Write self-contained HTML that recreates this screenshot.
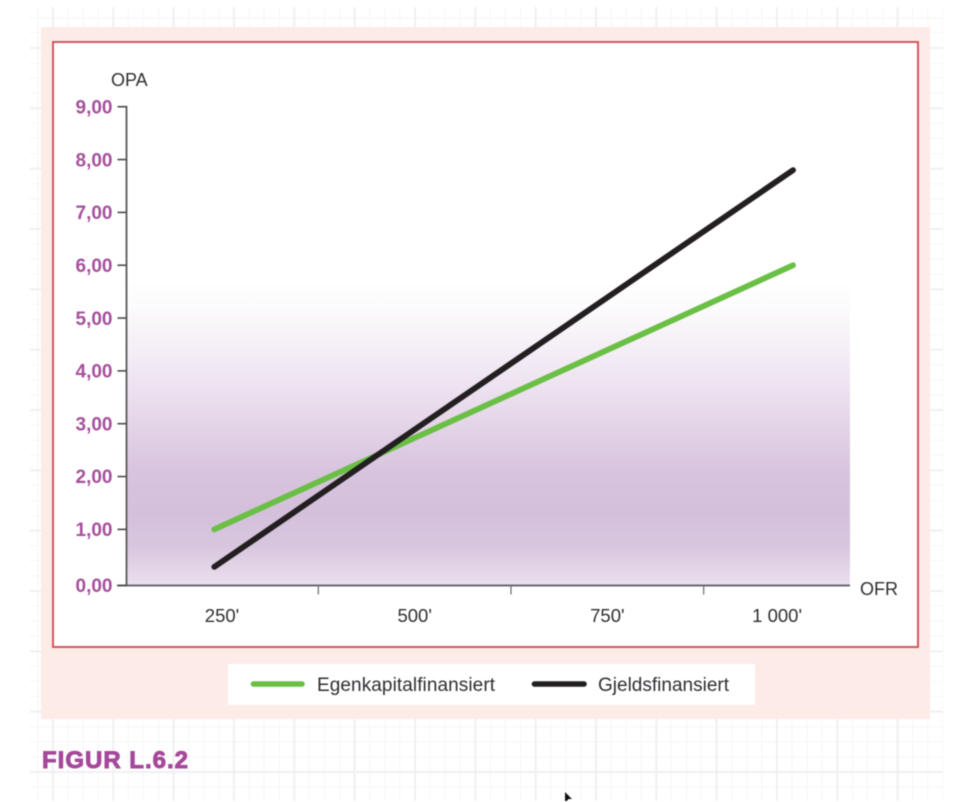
<!DOCTYPE html>
<html lang="no">
<head>
<meta charset="utf-8">
<title>Figur L.6.2</title>
<style>
html,body{margin:0;padding:0;background:#fff;width:964px;height:802px;overflow:hidden}
svg{display:block;font-family:"Liberation Sans",sans-serif;filter:blur(0.4px)}
</style>
</head>
<body>
<svg id="chart" width="964" height="802" viewBox="0 0 964 802" xmlns="http://www.w3.org/2000/svg">
  <defs>
    <pattern id="gridPattern" x="53" y="48" width="60.33" height="60.33" patternUnits="userSpaceOnUse">
      <path d="M15.08 0V60.33M30.16 0V60.33M45.25 0V60.33M0 15.08H60.33M0 30.16H60.33M0 45.25H60.33" stroke="#f6f6f7" stroke-width="1" fill="none"/>
      <path d="M0 0V60.33M60.33 0V60.33M0 0H60.33M0 60.33H60.33" stroke="#f0f0f2" stroke-width="2" fill="none"/>
    </pattern>
    <linearGradient id="purpleFade" x1="0" y1="0" x2="0" y2="1">
      <stop offset="0" stop-color="#ffffff"/>
      <stop offset="0.08" stop-color="#fcfbfd"/>
      <stop offset="0.34" stop-color="#eee3f1"/>
      <stop offset="0.62" stop-color="#d8c4de"/>
      <stop offset="0.76" stop-color="#d5c0dc"/>
      <stop offset="0.87" stop-color="#d8c6df"/>
      <stop offset="1" stop-color="#ebe0ee"/>
    </linearGradient>
  </defs>
  <rect x="30" y="7" width="913" height="794" fill="url(#gridPattern)"/>
  <rect x="41" y="27" width="889" height="692" fill="#fdebe7"/>
  <rect x="53" y="42" width="865" height="605" fill="#ffffff" stroke="#d4565f" stroke-width="2"/>
  <rect x="127" y="283" width="723" height="302" fill="url(#purpleFade)"/>
  <g id="marks"></g>
  <text x="111" y="86" font-size="18" fill="#2f2f33">OPA</text>
  <text x="860" y="595" font-size="18" fill="#2f2f33">OFR</text>
  <rect x="228" y="664" width="527" height="41" fill="#ffffff"/>
  <line x1="253.5" y1="684" x2="302" y2="684" stroke="#6abf45" stroke-width="5.6" stroke-linecap="round"/>
  <text x="317" y="691" font-size="19" fill="#2f2f33" textLength="178">Egenkapitalfinansiert</text>
  <line x1="534.5" y1="684" x2="584" y2="684" stroke="#231f20" stroke-width="5.6" stroke-linecap="round"/>
  <text x="598" y="691" font-size="19" fill="#2f2f33" textLength="131">Gjeldsfinansiert</text>
  <text x="42" y="768" font-size="24" font-weight="700" fill="#a5489a" stroke="#a5489a" stroke-width="0.9" textLength="146">FIGUR L.6.2</text>
  <polygon points="565,792 572,799 568.5,799 567,801 565,801" fill="#111111"/>
</svg>
<script>
var yTickValues = [0, 1, 2, 3, 4, 5, 6, 7, 8, 9];
var yTickLabels = ["0,00", "1,00", "2,00", "3,00", "4,00", "5,00", "6,00", "7,00", "8,00", "9,00"];
var xCategories = [250, 500, 750, 1000];
var xCategoryLabels = ["250'", "500'", "750'", "1 000'"];
var xTickValues = [375, 625, 875];
var ofrValues = [240, 991];
var egenkapitalOpa = [1.0, 6.0];
var gjeldOpa = [0.29, 7.8];

var NS = 'http://www.w3.org/2000/svg';
var marks = document.getElementById('marks');
var baselineY = 585.5;

function xScale(v) { return 222 + (v - 250) * (578 / 750); }
function yScale(v) { return 582.2 - v * 52.83; }
function yTickPos(v) { return v === 0 ? baselineY : yScale(v); }

function make(tag, attrs, text) {
  var el = document.createElementNS(NS, tag);
  for (var k in attrs) el.setAttribute(k, attrs[k]);
  if (text !== undefined) el.textContent = text;
  marks.appendChild(el);
  return el;
}

var yAxis = make('line', { x1: 126.5, y1: yScale(9) - 0.8, x2: 126.5, y2: baselineY + 0.8, stroke: '#58585b', 'stroke-width': 1.8 });



var xAxis = make('line', { x1: 117, y1: baselineY, x2: 850, y2: baselineY, stroke: '#58585b', 'stroke-width': 1.8 });



yTickValues.forEach(function (v, i) {
  var y = yTickPos(v);
  var tick = make('line', { x1: 117.5, y1: y, x2: 126.5, y2: y, stroke: '#4a4a4d', 'stroke-width': 1.6 });
  
  
  var label = make('text', { x: 112.5, y: y + 6.7, 'text-anchor': 'end', 'font-size': 19, 'font-weight': 700, fill: '#a5509c' }, yTickLabels[i]);
  
  
});

xTickValues.forEach(function (v) {
  var x = xScale(v);
  var tick = make('line', { x1: x, y1: baselineY, x2: x, y2: baselineY + 9, stroke: '#6a6a6d', 'stroke-width': 1.2 });
  
  
});

xCategories.forEach(function (v, i) {
  var last = i === xCategories.length - 1;
  var label = make('text', { x: xScale(v) + (last ? 2 : 0), y: 622, 'text-anchor': last ? 'end' : 'middle', 'font-size': 18.5, fill: '#2f2f33' }, xCategoryLabels[i]);
  
  
});

function seriesPoints(values) {
  return values.map(function (v, i) { return xScale(ofrValues[i]) + ',' + yScale(v); }).join(' ');
}

var greenLine = make('polyline', { points: seriesPoints(egenkapitalOpa), fill: 'none', stroke: '#6abf45', 'stroke-width': 5.8, 'stroke-linecap': 'round' });



var blackLine = make('polyline', { points: seriesPoints(gjeldOpa), fill: 'none', stroke: '#231f20', 'stroke-width': 5.8, 'stroke-linecap': 'round' });


</script>
</body>
</html>
